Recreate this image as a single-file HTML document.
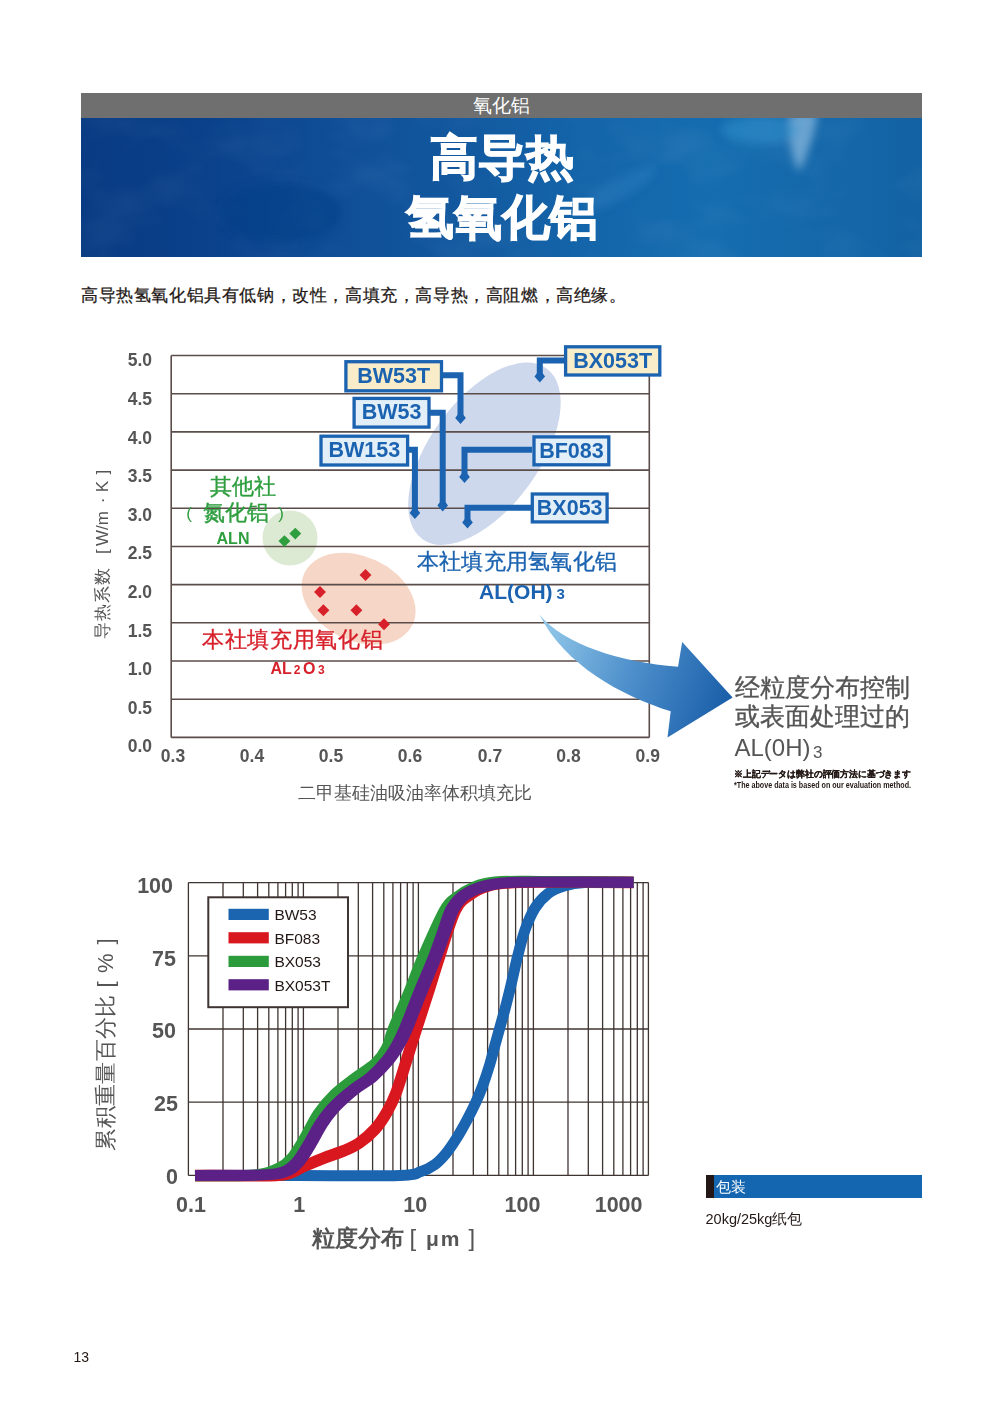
<!DOCTYPE html>
<html><head><meta charset="utf-8">
<style>
html,body{margin:0;padding:0;background:#fff;}
body{text-spacing-trim:space-all;width:1000px;height:1415px;position:relative;overflow:hidden;font-family:"Liberation Sans",sans-serif;}
.abs{position:absolute;white-space:nowrap;}
#graybar{left:81px;top:93px;width:841px;height:25px;background:#6f6f6f;color:#fff;font-size:18.5px;line-height:25px;text-align:center;}
#banner{left:81px;top:118px;width:841px;height:139px;overflow:hidden;}
#title{left:81px;top:128px;width:841px;text-align:center;color:#fff;font-weight:bold;font-size:48px;line-height:59.5px;-webkit-text-stroke:1.2px #fff;paint-order:stroke fill;}
#intro{left:81px;top:284.5px;font-size:17px;letter-spacing:0.6px;-webkit-text-stroke:0.25px #231815;color:#231815;line-height:22px;}
</style></head><body>
<div id="graybar" class="abs">氧化铝</div>
<div id="banner" class="abs"><svg width="841" height="139" viewBox="0 0 841 139">
<defs>
<linearGradient id="bg1" x1="0" y1="0" x2="841" y2="0" gradientUnits="userSpaceOnUse">
<stop offset="0" stop-color="#083b83"/><stop offset="0.15" stop-color="#0a418a"/><stop offset="0.3" stop-color="#0f4e97"/><stop offset="0.45" stop-color="#12589f"/><stop offset="0.6" stop-color="#1465aa"/><stop offset="0.75" stop-color="#156db0"/><stop offset="0.9" stop-color="#1467a9"/><stop offset="1" stop-color="#1362a3"/>
</linearGradient>
<filter id="cl" x="0" y="0" width="100%" height="100%">
<feTurbulence type="fractalNoise" baseFrequency="0.012 0.02" numOctaves="3" seed="7" result="n"/>
<feColorMatrix in="n" type="matrix" values="0 0 0 0 1  0 0 0 0 1  0 0 0 0 1  1.6 0 0 0 -0.75"/>
</filter>
<filter id="bl" x="-50%" y="-50%" width="200%" height="200%"><feGaussianBlur stdDeviation="4.5"/></filter>
</defs>
<rect width="841" height="139" fill="url(#bg1)"/>
<rect width="841" height="139" filter="url(#cl)" opacity="0.08"/>
<g filter="url(#bl)">
<path d="M709 -4 Q722 -8 737 -4 Q731 28 718 54 Q705 26 709 -4 Z" fill="#a3c9ea" opacity="0.6"/>
<ellipse cx="680" cy="12" rx="40" ry="14" fill="#3596d0" opacity="0.45"/>
<ellipse cx="200" cy="95" rx="60" ry="30" fill="#083c85" opacity="0.5"/>
<ellipse cx="540" cy="70" rx="10" ry="40" fill="#3a8fcf" opacity="0.25" transform="rotate(60 540 70)"/>
</g>
</svg></div>
<div id="title" class="abs">高导热<br>氢氧化铝</div>
<div id="intro" class="abs">高导热氢氧化铝具有低钠，改性，高填充，高导热，高阻燃，高绝缘。</div>

<svg class="abs" style="left:0;top:0" width="1000" height="1415" viewBox="0 0 1000 1415">
<defs>
<linearGradient id="arrg" x1="540" y1="630" x2="730" y2="700" gradientUnits="userSpaceOnUse">
<stop offset="0" stop-color="#93c9ea"/><stop offset="0.5" stop-color="#4d8fcb"/><stop offset="1" stop-color="#1a5ea9"/>
</linearGradient>
</defs>
<!-- chart 1 -->
<g id="c1">
<ellipse cx="290" cy="538" rx="27.5" ry="27.5" fill="#dce9d3"/>
<ellipse cx="358.6" cy="598.7" rx="59.9" ry="42.1" fill="#f6d7c7" transform="rotate(25.6 358.6 598.7)"/>
<ellipse cx="484.4" cy="453.7" rx="105.6" ry="54.6" fill="#cdd8ec" transform="rotate(-53.9 484.4 453.7)"/>
<g stroke="#5b4d49" stroke-width="1.6" fill="none">
<line x1="171.2" y1="355.5" x2="649.3" y2="355.5"/>
<line x1="171.2" y1="393.7" x2="649.3" y2="393.7"/>
<line x1="171.2" y1="431.9" x2="649.3" y2="431.9"/>
<line x1="171.2" y1="470.1" x2="649.3" y2="470.1"/>
<line x1="171.2" y1="508.3" x2="649.3" y2="508.3"/>
<line x1="171.2" y1="546.5" x2="649.3" y2="546.5"/>
<line x1="171.2" y1="584.6" x2="649.3" y2="584.6"/>
<line x1="171.2" y1="622.8" x2="649.3" y2="622.8"/>
<line x1="171.2" y1="661.0" x2="649.3" y2="661.0"/>
<line x1="171.2" y1="699.2" x2="649.3" y2="699.2"/>
<line x1="171.2" y1="737.4" x2="649.3" y2="737.4"/>
<line x1="171.2" y1="355.5" x2="171.2" y2="737.4"/>
<line x1="649.3" y1="355.5" x2="649.3" y2="737.4"/>
</g>
<!-- re-draw ellipses translucent over lines? no -->
<g font-family="Liberation Sans, sans-serif" font-weight="bold" font-size="17.5" fill="#555" text-anchor="end">
<text x="152" y="366.3">5.0</text>
<text x="152" y="404.9">4.5</text>
<text x="152" y="443.5">4.0</text>
<text x="152" y="482.1">3.5</text>
<text x="152" y="520.7">3.0</text>
<text x="152" y="559.3">2.5</text>
<text x="152" y="597.9">2.0</text>
<text x="152" y="636.5">1.5</text>
<text x="152" y="675.1">1.0</text>
<text x="152" y="713.7">0.5</text>
<text x="152" y="752.3">0.0</text>
</g>
<g font-family="Liberation Sans, sans-serif" font-weight="bold" font-size="17.5" fill="#555" text-anchor="middle">
<text x="173" y="762">0.3</text>
<text x="252" y="762">0.4</text>
<text x="331" y="762">0.5</text>
<text x="410" y="762">0.6</text>
<text x="490" y="762">0.7</text>
<text x="568.5" y="762">0.8</text>
<text x="647.7" y="762">0.9</text>
</g>
<text x="415" y="799" font-size="17.5" fill="#555" text-anchor="middle">二甲基硅油吸油率体积填充比</text>
<g transform="translate(108 639) rotate(-90)" fill="#555" font-size="17">
<text x="0" y="0" letter-spacing="1">导热系数</text>
<text x="85" y="0">[</text>
<text x="93" y="0">W/m</text>
<text x="135.7" y="0">·</text>
<text x="146.7" y="0">K</text>
<text x="164.5" y="0">]</text>
</g>

<!-- green points -->
<g fill="#2e9e3e">
<rect x="-4.2" y="-4.2" width="8.4" height="8.4" transform="translate(284.4 541.1) rotate(45)"/>
<rect x="-4.2" y="-4.2" width="8.4" height="8.4" transform="translate(295.3 533.6) rotate(45)"/>
</g>
<g fill="#d7202a">
<rect x="-4.2" y="-4.2" width="8.4" height="8.4" transform="translate(365.5 575) rotate(45)"/>
<rect x="-4.2" y="-4.2" width="8.4" height="8.4" transform="translate(320 592) rotate(45)"/>
<rect x="-4.2" y="-4.2" width="8.4" height="8.4" transform="translate(323.4 610.3) rotate(45)"/>
<rect x="-4.2" y="-4.2" width="8.4" height="8.4" transform="translate(356.4 610.3) rotate(45)"/>
<rect x="-4.2" y="-4.2" width="8.4" height="8.4" transform="translate(384 624.3) rotate(45)"/>
</g>
<g fill="#2e9e3e" text-anchor="middle">
<text x="243" y="493.5" font-size="21.5" stroke="#2e9e3e" stroke-width="0.35">其他社</text>
<text x="235.5" y="519.5" font-size="21.5" stroke="#2e9e3e" stroke-width="0.35">氮化铝</text>
<text x="189" y="518.5" font-size="17" font-weight="normal">(</text>
<text x="281" y="518.5" font-size="17" font-weight="normal">)</text>
<text x="233" y="543.5" font-size="16" font-weight="bold">ALN</text>
</g>
<g fill="#d7202a" text-anchor="middle">
<text x="292.7" y="647" font-size="22" letter-spacing="0.7" stroke="#d7202a" stroke-width="0.35">本社填充用氧化铝</text>
<text x="297.5" y="673.5" font-size="16" font-weight="bold">AL<tspan font-size="12" dx="2">2</tspan><tspan dx="2.5">O</tspan><tspan font-size="12" dx="2.5">3</tspan></text>
</g>
<g fill="#1b63b0" text-anchor="middle">
<text x="517" y="569" font-size="22" letter-spacing="0.3" stroke="#1b63b0" stroke-width="0.35">本社填充用氢氧化铝</text>
<text x="522" y="598.5" font-size="21" font-weight="bold">AL(OH)<tspan font-size="15" dx="4">3</tspan></text>
</g>

<!-- connectors -->
<g stroke="#1b63b0" stroke-width="6" fill="none" stroke-linejoin="miter">
<polyline points="443,375.2 460.5,375.2 460.5,418"/>
<polyline points="430,412.7 442.7,412.7 442.7,505.5"/>
<polyline points="409,449.8 414.9,449.8 414.9,513"/>
<polyline points="532,449.8 464.5,449.8 464.5,477"/>
<polyline points="531,507.7 467.5,507.7 467.5,522.6"/>
<polyline points="564,360.5 539.8,360.5 539.8,376.4"/>
</g>
<g fill="#1b63b0">
<path d="M460.5 411.0 L465.8 418.0 L460.5 424.0 L455.2 418.0 Z"/>
<path d="M442.7 498.5 L448.0 505.5 L442.7 511.5 L437.4 505.5 Z"/>
<path d="M414.9 506.0 L420.2 513.0 L414.9 519.0 L409.6 513.0 Z"/>
<path d="M464.5 470.0 L469.8 477.0 L464.5 483.0 L459.2 477.0 Z"/>
<path d="M467.5 515.6 L472.8 522.6 L467.5 528.6 L462.2 522.6 Z"/>
<path d="M539.8 369.4 L545.1 376.4 L539.8 382.4 L534.5 376.4 Z"/>
</g>
<g stroke="#1b63b0" stroke-width="3.3">
<rect x="345.9" y="361.7" width="95.6" height="29.1" fill="#f8edc8"/>
<rect x="354.1" y="398.4" width="74.9" height="28.7" fill="#e2eff9"/>
<rect x="321" y="436.2" width="86.6" height="28.8" fill="#e2eff9"/>
<rect x="534" y="436.9" width="74.8" height="27.9" fill="#e2eff9"/>
<rect x="532.3" y="494" width="74.8" height="27.9" fill="#e2eff9"/>
<rect x="565.6" y="346.8" width="94.2" height="28.2" fill="#f8edc8"/>
</g>
<g fill="#1b63b0" font-weight="bold" font-size="21.5" text-anchor="middle">
<text x="393.7" y="382.7">BW53T</text>
<text x="391.5" y="419.2">BW53</text>
<text x="364.3" y="457">BW153</text>
<text x="571.4" y="457.6">BF083</text>
<text x="569.7" y="515">BX053</text>
<text x="612.7" y="368.4">BX053T</text>
</g>
<!-- arrow -->
<path d="M539.5 614.7 C565 645 620 662 678 666.8 L682.2 642 L732.6 697.6 L667.5 737.5 L670.7 711.3 C620 695 565 665 539.5 614.7 Z" fill="url(#arrg)"/>
</g>
<g fill="#555" font-size="25">
<text x="734.5" y="695.5" stroke="#555" stroke-width="0.35">经粒度分布控制</text>
<text x="734.5" y="724.5" stroke="#555" stroke-width="0.35">或表面处理过的</text>
<text x="734.5" y="756" font-size="24">AL(0H)<tspan font-size="17" dx="2.5" dy="2">3</tspan></text>
</g>
<g fill="#231815" font-weight="bold">
<text x="734" y="777" font-size="9" textLength="177" lengthAdjust="spacingAndGlyphs" stroke="#231815" stroke-width="0.2">※上記データは弊社の評価方法に基づきます</text>
<text x="734" y="788" font-size="8.3" textLength="177" lengthAdjust="spacingAndGlyphs">*The above data is based on our evaluation method.</text>
</g>

<!-- chart 2 -->
<g id="c2">
<g stroke="#3e3431" stroke-width="1.3" fill="none">
<line x1="188.4" y1="882.6" x2="648.4" y2="882.6"/>
<line x1="188.4" y1="955.8" x2="648.4" y2="955.8"/>
<line x1="188.4" y1="1029.0" x2="648.4" y2="1029.0"/>
<line x1="188.4" y1="1102.2" x2="648.4" y2="1102.2"/>
<line x1="188.4" y1="1175.4" x2="648.4" y2="1175.4"/>
<line x1="188.4" y1="882.6" x2="188.4" y2="1175.4"/>
<line x1="223.0" y1="882.6" x2="223.0" y2="1175.4"/>
<line x1="243.3" y1="882.6" x2="243.3" y2="1175.4"/>
<line x1="257.6" y1="882.6" x2="257.6" y2="1175.4"/>
<line x1="268.8" y1="882.6" x2="268.8" y2="1175.4"/>
<line x1="277.9" y1="882.6" x2="277.9" y2="1175.4"/>
<line x1="285.6" y1="882.6" x2="285.6" y2="1175.4"/>
<line x1="292.3" y1="882.6" x2="292.3" y2="1175.4"/>
<line x1="298.1" y1="882.6" x2="298.1" y2="1175.4"/>
<line x1="303.4" y1="882.6" x2="303.4" y2="1175.4"/>
<line x1="338.0" y1="882.6" x2="338.0" y2="1175.4"/>
<line x1="358.3" y1="882.6" x2="358.3" y2="1175.4"/>
<line x1="372.6" y1="882.6" x2="372.6" y2="1175.4"/>
<line x1="383.8" y1="882.6" x2="383.8" y2="1175.4"/>
<line x1="392.9" y1="882.6" x2="392.9" y2="1175.4"/>
<line x1="400.6" y1="882.6" x2="400.6" y2="1175.4"/>
<line x1="407.3" y1="882.6" x2="407.3" y2="1175.4"/>
<line x1="413.1" y1="882.6" x2="413.1" y2="1175.4"/>
<line x1="418.4" y1="882.6" x2="418.4" y2="1175.4"/>
<line x1="453.0" y1="882.6" x2="453.0" y2="1175.4"/>
<line x1="473.3" y1="882.6" x2="473.3" y2="1175.4"/>
<line x1="487.6" y1="882.6" x2="487.6" y2="1175.4"/>
<line x1="498.8" y1="882.6" x2="498.8" y2="1175.4"/>
<line x1="507.9" y1="882.6" x2="507.9" y2="1175.4"/>
<line x1="515.6" y1="882.6" x2="515.6" y2="1175.4"/>
<line x1="522.3" y1="882.6" x2="522.3" y2="1175.4"/>
<line x1="528.1" y1="882.6" x2="528.1" y2="1175.4"/>
<line x1="533.4" y1="882.6" x2="533.4" y2="1175.4"/>
<line x1="568.0" y1="882.6" x2="568.0" y2="1175.4"/>
<line x1="588.3" y1="882.6" x2="588.3" y2="1175.4"/>
<line x1="602.6" y1="882.6" x2="602.6" y2="1175.4"/>
<line x1="613.8" y1="882.6" x2="613.8" y2="1175.4"/>
<line x1="622.9" y1="882.6" x2="622.9" y2="1175.4"/>
<line x1="630.6" y1="882.6" x2="630.6" y2="1175.4"/>
<line x1="637.3" y1="882.6" x2="637.3" y2="1175.4"/>
<line x1="643.1" y1="882.6" x2="643.1" y2="1175.4"/>
<line x1="648.4" y1="882.6" x2="648.4" y2="1175.4"/>
</g>
<!--CURVES-->
<g fill="none" stroke-linecap="butt" stroke-linejoin="round">
<path stroke="#1a64b0" stroke-width="11" d="M195.00 1175.6 C212.50 1175.6 265.83 1175.6 300.00 1175.6 C334.17 1175.6 379.83 1176.1 400.00 1175.4 C420.17 1174.7 415.17 1173.2 421.00 1171.4 C426.83 1169.6 430.80 1167.4 435.00 1164.4 C439.20 1161.4 442.70 1157.4 446.20 1153.2 C449.70 1149.0 452.50 1144.8 456.00 1139.2 C459.50 1133.6 463.93 1125.7 467.20 1119.6 C470.47 1113.5 473.03 1108.4 475.60 1102.8 C478.17 1097.2 480.27 1092.3 482.60 1086.0 C484.93 1079.7 487.53 1071.8 489.60 1065.0 C491.67 1058.2 492.43 1054.3 495.00 1045.0 C497.57 1035.7 502.33 1019.0 505.00 1009.0 C507.67 999.0 508.90 993.8 511.00 985.0 C513.10 976.2 515.27 965.6 517.60 956.4 C519.93 947.2 522.10 938.1 525.00 930.0 C527.90 921.9 531.17 914.1 535.00 908.0 C538.83 901.9 543.17 897.3 548.00 893.6 C552.83 889.9 557.83 887.9 564.00 886.0 C570.17 884.1 573.40 883.1 585.00 882.5 C596.60 881.9 625.50 882.4 633.60 882.4"/>
<path stroke="#d8171e" stroke-width="11.7" d="M195.00 1175.6 C207.50 1175.6 254.17 1176.0 270.00 1175.6 C285.83 1175.2 284.20 1174.6 290.00 1173.0 C295.80 1171.4 299.13 1168.5 304.80 1166.0 C310.47 1163.5 317.60 1160.5 324.00 1158.0 C330.40 1155.5 337.33 1153.5 343.20 1151.0 C349.07 1148.5 353.87 1146.7 359.20 1143.0 C364.53 1139.3 370.57 1134.2 375.20 1129.0 C379.83 1123.8 383.53 1118.0 387.00 1112.0 C390.47 1106.0 392.83 1101.3 396.00 1093.0 C399.17 1084.7 402.67 1072.5 406.00 1062.0 C409.33 1051.5 412.33 1041.5 416.00 1030.0 C419.67 1018.5 424.08 1005.3 428.00 993.0 C431.92 980.7 434.93 970.2 439.50 956.4 C444.07 942.6 450.15 920.4 455.40 910.0 C460.65 899.6 465.57 898.0 471.00 894.0 C476.43 890.0 482.33 887.8 488.00 886.0 C493.67 884.2 496.33 883.7 505.00 883.0 C513.67 882.3 518.57 882.1 540.00 882.0 C561.43 881.9 618.00 882.3 633.60 882.4"/>
<g transform="scale(1.25 1)">
<path stroke="#2b9b3b" stroke-width="11.2" d="M156.00 1175.6 C164.00 1175.5 192.67 1176.3 204.00 1175.0 C215.33 1173.7 218.93 1170.8 224.00 1168.0 C229.07 1165.2 230.93 1163.0 234.40 1158.0 C237.87 1153.0 241.20 1145.5 244.80 1138.0 C248.40 1130.5 252.00 1120.3 256.00 1113.0 C260.00 1105.7 264.00 1099.8 268.80 1094.0 C273.60 1088.2 279.33 1083.2 284.80 1078.0 C290.27 1072.8 297.33 1068.0 301.60 1063.0 C305.87 1058.0 308.08 1053.6 310.40 1048.0 C312.72 1042.4 312.59 1038.6 315.52 1029.4 C318.45 1020.2 323.99 1005.2 328.00 993.0 C332.01 980.8 334.80 970.2 339.60 956.4 C344.40 942.6 352.33 919.9 356.80 910.0 C361.27 900.1 362.53 900.8 366.40 897.0 C370.27 893.2 375.07 889.5 380.00 887.0 C384.93 884.5 387.33 882.9 396.00 882.0 C404.67 881.1 413.52 881.4 432.00 881.5 C450.48 881.6 494.40 882.2 506.88 882.4"/>
<path stroke="#5b2187" stroke-width="11.2" d="M156.00 1175.5 C164.67 1175.4 196.13 1175.6 208.00 1175.0 C219.87 1174.4 222.27 1174.0 227.20 1172.0 C232.13 1170.0 234.40 1167.2 237.60 1163.0 C240.80 1158.8 243.23 1153.4 246.40 1147.0 C249.57 1140.6 253.44 1130.8 256.64 1124.5 C259.84 1118.2 262.61 1113.8 265.60 1109.5 C268.59 1105.2 271.36 1102.1 274.56 1098.5 C277.76 1094.9 280.96 1091.6 284.80 1088.0 C288.64 1084.4 293.33 1081.5 297.60 1076.8 C301.87 1072.1 306.93 1065.3 310.40 1060.0 C313.87 1054.7 316.05 1050.1 318.40 1045.0 C320.75 1039.9 321.55 1038.1 324.48 1029.4 C327.41 1020.7 332.05 1005.2 336.00 993.0 C339.95 980.8 344.96 966.6 348.16 956.4 C351.36 946.2 352.96 939.7 355.20 932.0 C357.44 924.3 359.20 915.8 361.60 910.0 C364.00 904.2 366.40 900.5 369.60 897.0 C372.80 893.5 376.80 891.1 380.80 889.0 C384.80 886.9 389.07 885.6 393.60 884.5 C398.13 883.4 401.60 882.9 408.00 882.5 C414.40 882.1 415.52 882.0 432.00 882.0 C448.48 882.0 494.40 882.3 506.88 882.4"/>
</g></g>

<!--/CURVES-->
<rect x="208.3" y="897.3" width="139.7" height="109.9" fill="#fff" stroke="#3e3431" stroke-width="2"/>
<rect x="228.5" y="908.8" width="40.3" height="11.2" fill="#1a64b0"/>
<rect x="228.5" y="932.2" width="40.3" height="11.2" fill="#d8171e"/>
<rect x="228.5" y="955.8" width="40.3" height="11.2" fill="#2b9b3b"/>
<rect x="228.5" y="979.2" width="40.3" height="11.2" fill="#5b2187"/>
<g fill="#231815" font-size="15.5">
<text x="274.4" y="920">BW53</text>
<text x="274.4" y="943.5">BF083</text>
<text x="274.4" y="967">BX053</text>
<text x="274.4" y="990.5">BX053T</text>
</g>
<g fill="#555" font-weight="bold" font-size="21.5" text-anchor="end">
<text x="173" y="893">100</text>
<text x="176" y="966">75</text>
<text x="176" y="1038">50</text>
<text x="178" y="1111">25</text>
<text x="178" y="1183.5">0</text>
</g>
<g fill="#555" font-weight="bold" font-size="21.5" text-anchor="middle">
<text x="191" y="1212">0.1</text>
<text x="299.3" y="1212">1</text>
<text x="415.2" y="1212">10</text>
<text x="522.5" y="1212">100</text>
<text x="618.6" y="1212">1000</text>
</g>
<g fill="#555"><text x="312" y="1245.5" font-weight="bold" font-size="22.5">粒度分布</text><text x="409.5" y="1246" font-size="24">[</text><text x="426" y="1245.5" font-weight="bold" font-size="21" letter-spacing="2">μm</text><text x="468.5" y="1246" font-size="24">]</text></g>
<g transform="translate(113 1150.5) rotate(-90)" fill="#555" font-size="22">
<text x="0" y="0" letter-spacing="0.3">累积重量百分比</text>
<text x="163" y="0">[</text>
<text x="177.6" y="0">%</text>
<text x="206" y="0">]</text>
</g>
</g>
</svg>

<div class="abs" style="left:705.5px;top:1174.5px;width:216.5px;height:23.5px;background:#1466b0;"></div>
<div class="abs" style="left:705.5px;top:1174.5px;width:8px;height:23.5px;background:#231815;"></div>
<div class="abs" style="left:716px;top:1174.5px;line-height:23.5px;font-size:15px;color:#fff;">包装</div>
<div class="abs" style="left:705.5px;top:1209px;line-height:20px;font-size:14.5px;color:#231815;">20kg/25kg纸包</div>
<div class="abs" style="left:73.5px;top:1347px;line-height:20px;font-size:14px;color:#231815;">13</div>
</body></html>
